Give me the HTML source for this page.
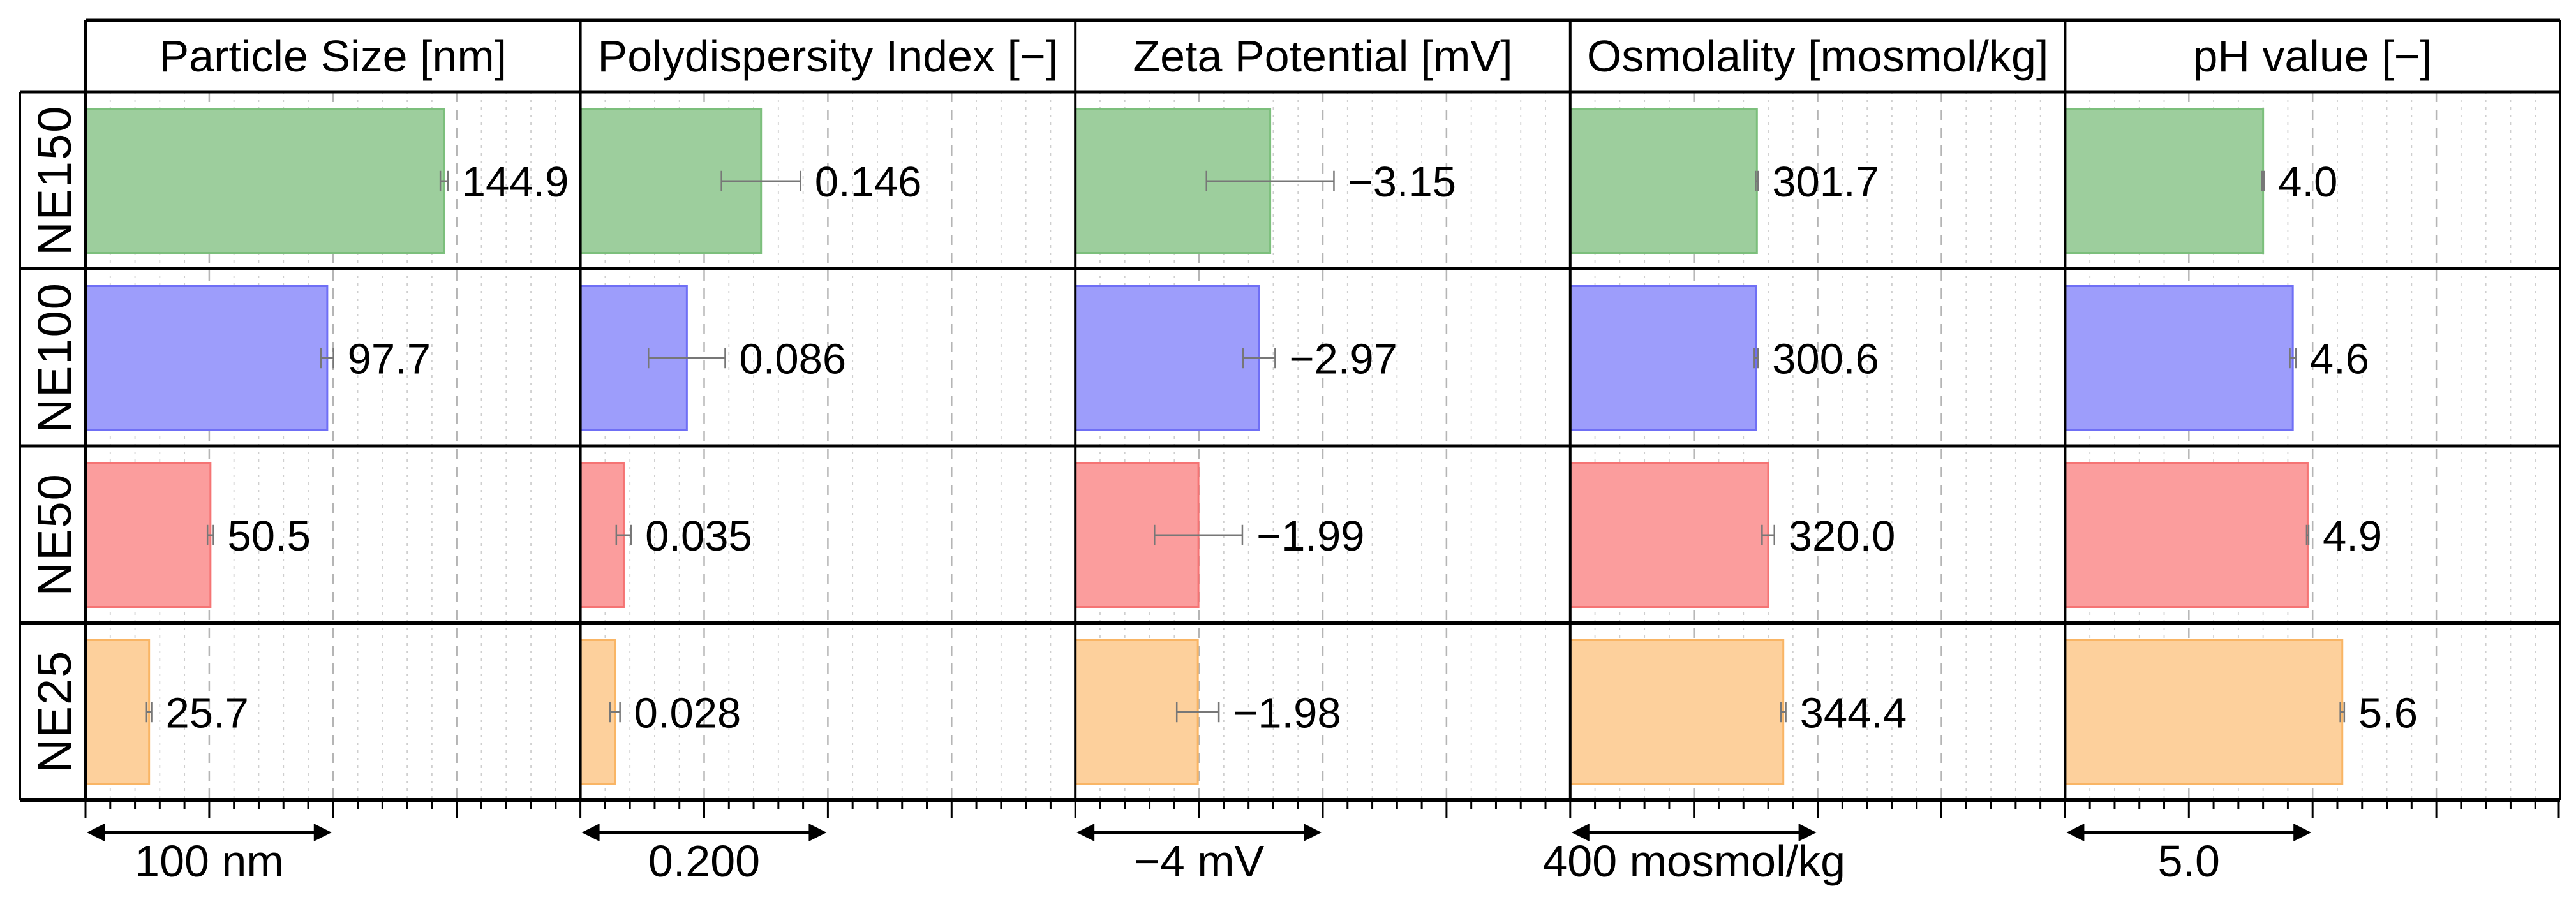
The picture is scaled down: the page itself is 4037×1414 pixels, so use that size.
<!DOCTYPE html>
<html><head><meta charset="utf-8"><style>
html,body{margin:0;padding:0;background:#fff;}
svg{display:block;font-family:"Liberation Sans",sans-serif;}
</style></head><body>
<svg id="chart" xmlns="http://www.w3.org/2000/svg" width="4037" height="1414" viewBox="0 0 4037 1414"></svg>
<script>
const categories = ["NE150","NE100","NE50","NE25"];
const panelTitles = ["Particle Size [nm]","Polydispersity Index [\u2212]","Zeta Potential [mV]","Osmolality [mosmol/kg]","pH value [\u2212]"];
const axisMax = [200, 0.4, 8, 800, 10];
const sizeValues = [144.9, 97.7, 50.5, 25.7];
const sizeErrors = [1.5, 2.5, 1.2, 1.0];
const pdiValues = [0.146, 0.086, 0.035, 0.028];
const pdiErrors = [0.032, 0.031, 0.006, 0.004];
const zetaValues = [3.15, 2.97, 1.99, 1.98];
const zetaErrors = [1.03, 0.26, 0.71, 0.34];
const osmoValues = [301.7, 300.6, 320.0, 344.4];
const osmoErrors = [2, 3, 10, 4];
const phValues = [4.0, 4.6, 4.9, 5.6];
const phErrors = [0.02, 0.06, 0.02, 0.04];
const valueLabels = [
  ["144.9","97.7","50.5","25.7"],
  ["0.146","0.086","0.035","0.028"],
  ["\u22123.15","\u22122.97","\u22121.99","\u22121.98"],
  ["301.7","300.6","320.0","344.4"],
  ["4.0","4.6","4.9","5.6"]
];
const scaleLabels = ["100 nm","0.200","\u22124 mV","400 mosmol/kg","5.0"];
const scaleValues = [100, 0.2, 4, 400, 5];

const allValues = [sizeValues, pdiValues, zetaValues, osmoValues, phValues];
const allErrors = [sizeErrors, pdiErrors, zetaErrors, osmoErrors, phErrors];
const fills = ["#9dce9d","#9d9dfb","#fb9d9d","#fdd09c"];
const strokes = ["#7cbf7c","#6f6ff5","#f57474","#f9b565"];

const svg = document.getElementById('chart');
const NS = "http://www.w3.org/2000/svg";
function mk(tag, attrs, parent){
  const e = document.createElementNS(NS, tag);
  for (const k in attrs) e.setAttribute(k, attrs[k]);
  (parent||svg).appendChild(e);
  return e;
}
const X0 = 134, PW = 775.6, TOP = 32, HB = 144, RH = 277.5, AX = 1254, LEFT = 31;
function xScale(p, v){ return X0 + p*PW + v/axisMax[p]*PW; }
function yRow(r){ return HB + r*RH; }

for (let p=0;p<5;p++){
  for (let i=1;i<20;i++){
    const v = axisMax[p]*i/20;
    const x = xScale(p, v);
    const major = i%5===0;
    const g = mk('line',{x1:x,x2:x,y1:HB,y2:AX,stroke:major?'#b5b5b5':'#cfcfcf','stroke-width':major?2.5:1.8,'stroke-dasharray':major?'16,12':'4,8'});
    
    
  }
}

for (let p=0;p<5;p++){
  for (let r=0;r<4;r++){
    const v = allValues[p][r], e = allErrors[p][r];
    const y0 = yRow(r)+27, h = RH-52;
    const xl = xScale(p,0), xr = xScale(p,v);
    const b = mk('rect',{x:xl,y:y0,width:xr-xl,height:h,fill:fills[r],stroke:strokes[r],'stroke-width':3});
    
    
    const yc = y0+h/2;
    const ex1 = xScale(p,v-e), ex2 = xScale(p,v+e);
    const eg = mk('g',{stroke:'#777','stroke-width':2.5});
    
    
    mk('line',{x1:ex1,x2:ex2,y1:yc,y2:yc},eg);
    mk('line',{x1:ex1,x2:ex1,y1:yc-16,y2:yc+16},eg);
    mk('line',{x1:ex2,x2:ex2,y1:yc-16,y2:yc+16},eg);
    const t = mk('text',{x:Math.max(xr,ex2)+22,y:yc+24,'font-size':67,fill:'#000'});
    t.textContent = valueLabels[p][r];
    
    
  }
}

const fr = mk('g',{stroke:'#000',fill:'none'});


mk('line',{x1:X0,x2:X0+5*PW,y1:TOP,y2:TOP,'stroke-width':5},fr);
mk('line',{x1:LEFT,x2:X0+5*PW,y1:HB,y2:HB,'stroke-width':5},fr);
for (let r=1;r<4;r++) mk('line',{x1:LEFT,x2:X0+5*PW,y1:yRow(r),y2:yRow(r),'stroke-width':5},fr);
mk('line',{x1:LEFT,x2:X0+5*PW,y1:AX,y2:AX,'stroke-width':6},fr);
mk('line',{x1:LEFT,x2:LEFT,y1:HB,y2:AX,'stroke-width':4},fr);
for (let p=0;p<=5;p++) mk('line',{x1:X0+p*PW,x2:X0+p*PW,y1:TOP,y2:AX,'stroke-width':4},fr);

for (let p=0;p<5;p++){
  const t = mk('text',{x:X0+p*PW+PW/2,y:112,'font-size':70,'text-anchor':'middle',fill:'#000'});
  t.textContent = panelTitles[p];
  
  
}
for (let r=0;r<4;r++){
  const cy = yRow(r)+RH/2, cx = 111;
  const t = mk('text',{x:cx,y:cy,'font-size':74,'text-anchor':'middle','letter-spacing':2,transform:'rotate(-90 '+cx+' '+cy+')',fill:'#000'});
  t.textContent = categories[r];
  
  
}

const tg = mk('g',{stroke:'#000','stroke-width':3});


for (let p=0;p<5;p++){
  for (let i=0;i<20;i++){
    const x = xScale(p, axisMax[p]*i/20);
    mk('line',{x1:x,x2:x,y1:AX,y2:AX+(i%5===0?28:14)},tg);
  }
}
mk('line',{x1:X0+5*PW-2,x2:X0+5*PW-2,y1:AX,y2:AX+28},tg);

for (let p=0;p<5;p++){
  const x1 = xScale(p,0), x2 = xScale(p,scaleValues[p]), y = 1305;
  const ag = mk('g',{});
  
  
  mk('line',{x1:x1+20,x2:x2-20,y1:y,y2:y,stroke:'#000','stroke-width':4},ag);
  mk('polygon',{points:`${x1+2},${y} ${x1+30},${y-14} ${x1+30},${y+14}`,fill:'#000'},ag);
  mk('polygon',{points:`${x2-2},${y} ${x2-30},${y-14} ${x2-30},${y+14}`,fill:'#000'},ag);
  const t = mk('text',{x:(x1+x2)/2,y:1374,'font-size':70,'text-anchor':'middle',fill:'#000'});
  t.textContent = scaleLabels[p];
  
  
}
</script>
</body></html>
